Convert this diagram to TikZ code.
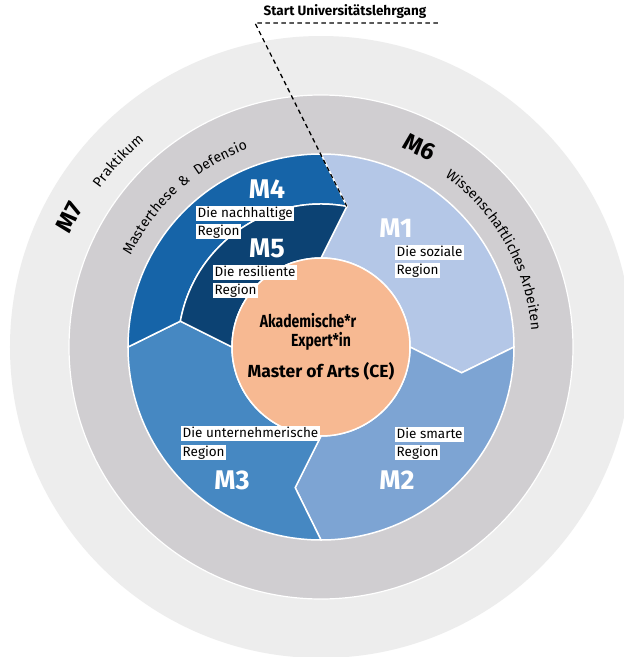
\documentclass[tikz,border=0pt]{standalone}
\usepackage{fontspec}
\setmainfont{Fira Sans}
\newfontfamily\narrowfam{Fira Sans}[FakeStretch=0.8]
\definecolor{cmone}{HTML}{B4C7E7}
\definecolor{cmtwo}{HTML}{7DA4D3}
\definecolor{cmthree}{HTML}{4688C2}
\definecolor{cmfour}{HTML}{1664A8}
\definecolor{cmfive}{HTML}{0C4273}
\definecolor{corange}{HTML}{F7B992}
\definecolor{cgray}{HTML}{D0CED1}
\definecolor{clight}{HTML}{EDEDED}
\makeatletter
\newlength\arcw
\newlength\arctot
\newlength\arcsp
\arcsp=0.2pt
\newcommand\ringfont{\fontsize{14}{14}\selectfont}
% #1 list name, #2 radius (number, pt), #3 middle angle, #4 word
\newcommand\preparc[4]{%
  \arctot=0pt
  \@tfor\arcch:=#4\do{\settowidth\arcw{\ringfont\arcch}\advance\arctot by\arcw \advance\arctot by\arcsp}%
  \advance\arctot by -\arcsp
  \pgfmathsetmacro\arcang{#3 + (\strip@pt\arctot/2)/#2*57.29578}%
  \gdef\arctmp{}%
  \@tfor\arcch:=#4\do{%
    \settowidth\arcw{\ringfont\arcch}%
    \pgfmathsetmacro\arcmid{\arcang - (\strip@pt\arcw/2)/#2*57.29578}%
    \ifx\arctmp\@empty\xdef\arctmp{\arcmid/\arcch}\else\xdef\arctmp{\arctmp,\arcmid/\arcch}\fi
    \pgfmathsetmacro\arcang{\arcang - (\strip@pt\arcw+\strip@pt\arcsp)/#2*57.29578}%
  }%
  \global\expandafter\let\csname arcl@#1\endcsname\arctmp
}
% #1 list name, #2 radius
\newcommand\drawarc[2]{%
  \expandafter\let\expandafter\arcl\csname arcl@#1\endcsname
  \foreach \arca/\arcc in \arcl {\node[ringtext, rotate=\arca-90] at (\arca:#2pt) {\arcc};}%
}
\makeatother
\begin{document}
\preparc{wiss}{211}{37.3}{Wissenschaftliches}%
\preparc{arb}{211}{12.0}{Arbeiten}%
\preparc{mast}{211}{143.5}{Masterthese}%
\preparc{def}{211}{118.0}{Defensio}%
\preparc{prak}{272}{137.5}{Praktikum}%
\begin{tikzpicture}[x=1pt,y=1pt,
  sector/.style={draw=white, line width=1.5pt},
  mlabel/.style={text=white, font=\fontsize{27}{27}\selectfont\bfseries, inner sep=0pt},
  ringm/.style={text=black, font=\fontsize{24}{24}\selectfont\bfseries, inner sep=0pt},
  ringtext/.style={font=\ringfont, inner sep=0pt, anchor=base},
  lbl/.style={fill=white, inner xsep=1.5pt, inner ysep=1pt, text height=10pt, text depth=3.2pt,
     anchor=north west, font=\fontsize{13.5}{13.5}\selectfont},
  centertext/.style={font=\fontsize{17.5}{17.5}\selectfont\bfseries, inner sep=0pt},
  centernarrow/.style={font=\narrowfam\fontsize{17.5}{17.5}\selectfont\bfseries, inner sep=0pt},
  startdash/.style={draw=black, line width=1.3pt, dash pattern=on 4.5pt off 3.5pt}
]
\useasboundingbox (-321,-310) rectangle (303,347);
\clip (-321,-310) rectangle (303,347);
\fill[white] (-321,-310) rectangle (303,347);
% rings
\fill[clight] (0,0) circle (311pt);
\filldraw[fill=cgray, draw=white, line width=1.2pt] (0,0) circle (252pt);
% sectors
\filldraw[sector, fill=cmone] (90:193pt) arc[start angle=90, end angle=0, radius=193pt]
  -- (-10.4:143pt) -- (0:89pt) arc[start angle=0, end angle=90, radius=89pt]
  -- (79.6:143pt) -- cycle;
\filldraw[sector, fill=cmtwo] (0:193pt) arc[start angle=0, end angle=-90, radius=193pt]
  -- (-100.4:143pt) -- (-90:89pt) arc[start angle=-90, end angle=0, radius=89pt]
  -- (-10.4:143pt) -- cycle;
\filldraw[sector, fill=cmthree] (-90:193pt) arc[start angle=-90, end angle=-180, radius=193pt]
  -- (169.6:143pt) -- (180:89pt) arc[start angle=180, end angle=270, radius=89pt]
  -- (-100.4:143pt) -- cycle;
\filldraw[sector, fill=cmfour] (180:193pt) arc[start angle=180, end angle=90, radius=193pt]
  -- (79.6:143pt) arc[start angle=79.6, end angle=169.6, radius=143pt] -- cycle;
\filldraw[sector, fill=cmfive] (169.6:143pt) arc[start angle=169.6, end angle=79.6, radius=143pt]
  -- (90:89pt) arc[start angle=90, end angle=180, radius=89pt] -- cycle;
\filldraw[fill=corange, draw=white, line width=1.5pt] (0,0) circle (89pt);
% center text
\node[centernarrow] (akad) at (-13,26) {Akademische*r};
\node[centernarrow] (expert) at (0,6) {Expert*in};
\node[centertext] (master) at (0,-24) {Master of Arts (CE)};
% module labels
\node[mlabel] (mone) at (75,119) {M1};
\node[mlabel] (mtwo) at (76,-133) {M2};
\node[mlabel] (mthree) at (-89,-133) {M3};
\node[mlabel] (mfour) at (-54,158) {M4};
\node[mlabel] (mfive) at (-54,99) {M5};
% boxed labels
\node[lbl] (soz1) at (74,102) {Die soziale};
\node[lbl] (soz2) at (74,84) {Region};
\node[lbl] (sma1) at (74,-80) {Die smarte};
\node[lbl] (sma2) at (74,-98) {Region};
\node[lbl] (unt1) at (-140,-79) {Die unternehmerische};
\node[lbl] (unt2) at (-140,-98) {Region};
\node[lbl] (nac1) at (-125,141) {Die nachhaltige};
\node[lbl] (nac2) at (-125,123) {Region};
\node[lbl] (res1) at (-108,82) {Die resiliente};
\node[lbl] (res2) at (-108,64) {Region};
% ring labels
\node[ringm, rotate=-26.3] (msix) at (63.7:223pt) {M6};
\node[ringm, rotate=62.7] (mseven) at (152.7:283pt) {M7};
\drawarc{wiss}{211}
\drawarc{arb}{211}
\drawarc{mast}{211}
\node[ringtext, rotate=39.5] (amp) at (129.5:211pt) {\&};
\drawarc{def}{211}
\drawarc{prak}{272}
% start marker
\coordinate (chevtop) at (79.6:143pt);
\coordinate (corner) at (-66,324);
\coordinate (lineend) at (117,324);
\node[font=\fontsize{13.5}{13.5}\selectfont\bfseries, inner sep=0pt] (start) at (24,335) {Start Universitätslehrgang};
\draw[startdash] (lineend) -- (corner) -- (chevtop);
\end{tikzpicture}
\end{document}
